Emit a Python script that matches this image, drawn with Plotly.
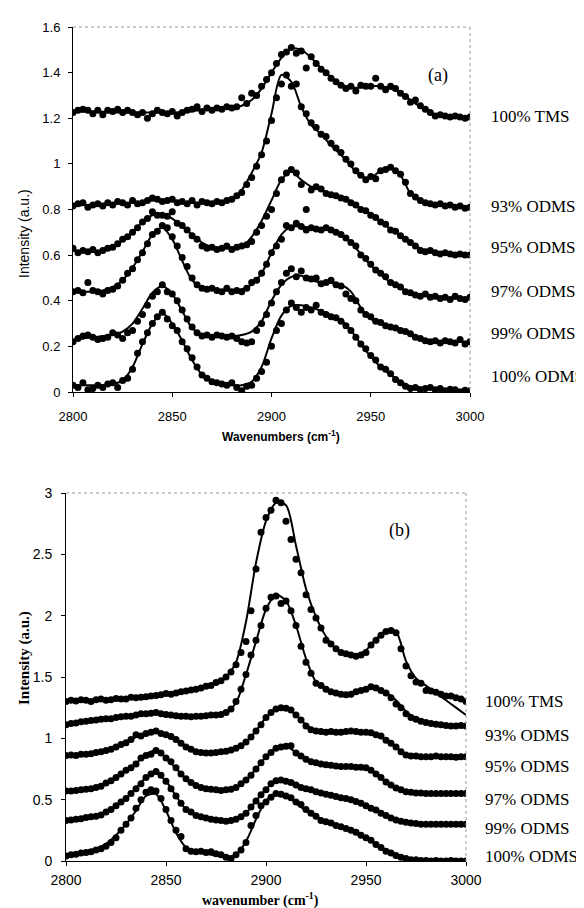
import plotly.graph_objects as go

# ---------------- data ----------------
wn_fit = list(range(2800, 3001, 5))                 # 41 fit points
wn_pts = [2800 + 2.5 * i for i in range(81)]         # 81 measured points

series_labels = ["100% TMS", "93% ODMS", "95% ODMS", "97% ODMS", "99% ODMS", "100% ODMS"]

# ---- panel (a) fitted curves ----
a_tms_fit = [1.23, 1.23, 1.23, 1.228, 1.225, 1.225, 1.225, 1.225, 1.225, 1.225, 1.225, 1.228, 1.232, 1.235,
             1.237, 1.24, 1.245, 1.255, 1.28, 1.33, 1.40, 1.465, 1.505, 1.50, 1.465, 1.42, 1.38, 1.35, 1.335,
             1.335, 1.34, 1.34, 1.33, 1.31, 1.28, 1.25, 1.225, 1.21, 1.205, 1.20, 1.20]
a_93_fit = [0.815, 0.82, 0.82, 0.825, 0.825, 0.828, 0.83, 0.835, 0.84, 0.842, 0.84, 0.835, 0.83, 0.83, 0.83,
            0.835, 0.845, 0.885, 0.96, 1.05, 1.22, 1.39, 1.36, 1.25, 1.17, 1.13, 1.08, 1.04, 0.99, 0.945,
            0.94, 0.97, 0.985, 0.95, 0.87, 0.835, 0.825, 0.82, 0.815, 0.81, 0.81]
a_95_fit = [0.62, 0.615, 0.615, 0.62, 0.635, 0.665, 0.70, 0.745, 0.775, 0.78, 0.76, 0.725, 0.69, 0.655, 0.635,
            0.63, 0.63, 0.635, 0.68, 0.75, 0.84, 0.93, 0.965, 0.93, 0.90, 0.885, 0.865, 0.85, 0.835, 0.805,
            0.78, 0.745, 0.715, 0.685, 0.655, 0.63, 0.615, 0.61, 0.605, 0.60, 0.60]
a_97_fit = [0.44, 0.44, 0.44, 0.445, 0.46, 0.49, 0.545, 0.615, 0.69, 0.72, 0.67, 0.575, 0.49, 0.455, 0.45,
            0.445, 0.445, 0.45, 0.47, 0.52, 0.61, 0.69, 0.725, 0.725, 0.72, 0.715, 0.71, 0.69, 0.655, 0.605,
            0.555, 0.515, 0.48, 0.455, 0.435, 0.425, 0.42, 0.415, 0.41, 0.41, 0.41]
a_99_fit = [0.225, 0.235, 0.24, 0.245, 0.25, 0.265, 0.30, 0.365, 0.435, 0.465, 0.43, 0.355, 0.28, 0.25, 0.245,
            0.245, 0.245, 0.25, 0.265, 0.31, 0.40, 0.47, 0.505, 0.51, 0.49, 0.48, 0.478, 0.47, 0.44, 0.37,
            0.32, 0.30, 0.285, 0.27, 0.25, 0.235, 0.225, 0.222, 0.22, 0.22, 0.22]
a_100_fit = [0.03, 0.03, 0.03, 0.03, 0.035, 0.05, 0.11, 0.21, 0.30, 0.345, 0.30, 0.225, 0.14, 0.075, 0.045,
             0.035, 0.03, 0.03, 0.045, 0.11, 0.235, 0.335, 0.378, 0.38, 0.37, 0.355, 0.335, 0.315, 0.27, 0.21,
             0.155, 0.11, 0.075, 0.045, 0.025, 0.02, 0.015, 0.012, 0.01, 0.01, 0.01]

# ---- panel (a) measured points ----
a_tms_pts = [1.225, 1.235, 1.24, 1.235, 1.22, 1.235, 1.215, 1.235, 1.23, 1.24, 1.225, 1.235, 1.225, 1.215,
             1.225, 1.20, 1.22, 1.235, 1.225, 1.22, 1.23, 1.21, 1.225, 1.235, 1.24, 1.25, 1.23, 1.245, 1.235,
             1.245, 1.24, 1.25, 1.245, 1.25, 1.29, 1.265, 1.31, 1.30, 1.34, 1.37, 1.40, 1.44, 1.48, 1.49,
             1.51, 1.485, 1.495, 1.42, 1.47, 1.44, 1.415, 1.40, 1.375, 1.36, 1.345, 1.33, 1.34, 1.32, 1.345,
             1.34, 1.34, 1.375, 1.34, 1.325, 1.34, 1.33, 1.31, 1.295, 1.27, 1.28, 1.255, 1.24, 1.225, 1.21,
             1.215, 1.21, 1.205, 1.21, 1.205, 1.20, 1.205]
a_93_pts = [0.815, 0.825, 0.83, 0.81, 0.82, 0.825, 0.815, 0.83, 0.82, 0.835, 0.83, 0.82, 0.84, 0.825, 0.83,
            0.84, 0.85, 0.845, 0.835, 0.84, 0.845, 0.83, 0.835, 0.825, 0.84, 0.82, 0.835, 0.83, 0.825, 0.835,
            0.83, 0.84, 0.845, 0.86, 0.875, 0.91, 0.94, 0.99, 1.04, 1.10, 1.19, 1.29, 1.35, 1.39, 1.34, 1.35,
            1.25, 1.22, 1.18, 1.16, 1.13, 1.12, 1.09, 1.07, 1.05, 1.02, 1.00, 0.97, 0.95, 0.93, 0.945, 0.935,
            0.97, 0.975, 0.985, 0.97, 0.955, 0.92, 0.87, 0.855, 0.84, 0.83, 0.825, 0.82, 0.825, 0.815, 0.82,
            0.81, 0.815, 0.805, 0.81]
a_95_pts = [0.63, 0.61, 0.62, 0.615, 0.625, 0.61, 0.62, 0.63, 0.635, 0.65, 0.67, 0.68, 0.70, 0.72, 0.745,
            0.76, 0.79, 0.775, 0.775, 0.77, 0.79, 0.74, 0.73, 0.71, 0.685, 0.67, 0.64, 0.63, 0.635, 0.625,
            0.63, 0.64, 0.625, 0.635, 0.64, 0.645, 0.66, 0.70, 0.73, 0.77, 0.80, 0.87, 0.93, 0.96, 0.975, 0.96,
            0.91, 0.80, 0.885, 0.90, 0.89, 0.87, 0.865, 0.86, 0.85, 0.845, 0.83, 0.82, 0.80, 0.795, 0.775,
            0.765, 0.745, 0.735, 0.71, 0.705, 0.685, 0.67, 0.655, 0.64, 0.62, 0.615, 0.62, 0.61, 0.605, 0.61,
            0.605, 0.60, 0.605, 0.60, 0.60]
a_97_pts = [0.44, 0.445, 0.435, 0.48, 0.445, 0.44, 0.43, 0.445, 0.45, 0.465, 0.49, 0.52, 0.54, 0.58, 0.61,
            0.65, 0.69, 0.705, 0.73, 0.72, 0.68, 0.64, 0.59, 0.55, 0.50, 0.47, 0.455, 0.45, 0.455, 0.445, 0.44,
            0.455, 0.44, 0.445, 0.44, 0.455, 0.48, 0.49, 0.52, 0.56, 0.61, 0.64, 0.67, 0.73, 0.72, 0.74, 0.725,
            0.71, 0.72, 0.715, 0.71, 0.72, 0.71, 0.70, 0.69, 0.675, 0.655, 0.64, 0.60, 0.585, 0.56, 0.535,
            0.52, 0.505, 0.48, 0.47, 0.46, 0.44, 0.435, 0.425, 0.42, 0.43, 0.415, 0.42, 0.41, 0.415, 0.405,
            0.42, 0.41, 0.405, 0.415]
a_99_pts = [0.22, 0.235, 0.245, 0.25, 0.24, 0.23, 0.235, 0.24, 0.26, 0.25, 0.235, 0.26, 0.27, 0.31, 0.34,
            0.38, 0.42, 0.44, 0.47, 0.44, 0.43, 0.40, 0.36, 0.32, 0.285, 0.26, 0.245, 0.25, 0.24, 0.25, 0.245,
            0.24, 0.245, 0.235, 0.22, 0.215, 0.22, 0.27, 0.30, 0.34, 0.39, 0.44, 0.48, 0.52, 0.54, 0.505, 0.53,
            0.50, 0.495, 0.50, 0.475, 0.48, 0.49, 0.47, 0.465, 0.43, 0.41, 0.40, 0.36, 0.34, 0.33, 0.31,
            0.305, 0.29, 0.285, 0.28, 0.27, 0.265, 0.255, 0.24, 0.235, 0.225, 0.22, 0.225, 0.215, 0.225, 0.22,
            0.215, 0.23, 0.21, 0.22]
a_100_pts = [0.03, 0.02, 0.04, 0.01, 0.015, 0.03, 0.02, 0.035, 0.04, 0.02, 0.05, 0.06, 0.10, 0.17, 0.22,
             0.26, 0.30, 0.33, 0.35, 0.32, 0.29, 0.27, 0.22, 0.19, 0.15, 0.11, 0.075, 0.06, 0.045, 0.04, 0.035,
             0.03, 0.04, 0.02, 0.005, 0.025, 0.03, 0.06, 0.09, 0.13, 0.20, 0.27, 0.30, 0.36, 0.39, 0.37, 0.35,
             0.37, 0.36, 0.38, 0.35, 0.34, 0.33, 0.325, 0.31, 0.29, 0.27, 0.24, 0.21, 0.19, 0.16, 0.14, 0.11,
             0.10, 0.08, 0.055, 0.04, 0.025, 0.015, 0.02, 0.01, 0.015, 0.02, 0.01, 0.015, 0.005, 0.012, 0.01,
             0.0, 0.008, 0.005]

# ---- panel (b) fitted curves ----
b_tms_fit = [1.31, 1.31, 1.31, 1.315, 1.315, 1.32, 1.325, 1.33, 1.34, 1.35, 1.36, 1.37, 1.385, 1.40, 1.42,
             1.45, 1.50, 1.62, 1.95, 2.43, 2.77, 2.92, 2.90, 2.57, 2.22, 1.99, 1.83, 1.73, 1.69, 1.68, 1.72,
             1.81, 1.88, 1.87, 1.63, 1.49, 1.43, 1.37, 1.31, 1.25, 1.19]
b_93_fit = [1.12, 1.13, 1.14, 1.15, 1.16, 1.17, 1.18, 1.19, 1.20, 1.205, 1.20, 1.19, 1.18, 1.18, 1.185, 1.19,
            1.21, 1.29, 1.52, 1.79, 2.05, 2.17, 2.12, 1.92, 1.65, 1.46, 1.40, 1.365, 1.355, 1.375, 1.405,
            1.41, 1.375, 1.31, 1.22, 1.16, 1.13, 1.115, 1.105, 1.10, 1.10]
b_95_fit = [0.86, 0.86, 0.87, 0.885, 0.90, 0.93, 0.97, 1.01, 1.04, 1.055, 1.035, 0.99, 0.93, 0.89, 0.88,
            0.885, 0.895, 0.92, 0.97, 1.06, 1.17, 1.24, 1.245, 1.19, 1.11, 1.06, 1.05, 1.05, 1.055, 1.055,
            1.05, 1.03, 0.985, 0.93, 0.87, 0.855, 0.85, 0.85, 0.85, 0.85, 0.85]
b_97_fit = [0.57, 0.575, 0.585, 0.60, 0.635, 0.68, 0.735, 0.795, 0.87, 0.90, 0.84, 0.755, 0.67, 0.615, 0.59,
            0.58, 0.58, 0.60, 0.66, 0.75, 0.85, 0.92, 0.935, 0.885, 0.83, 0.80, 0.785, 0.775, 0.77, 0.765,
            0.755, 0.71, 0.645, 0.595, 0.565, 0.555, 0.55, 0.55, 0.55, 0.55, 0.55]
b_99_fit = [0.33, 0.34, 0.355, 0.37, 0.40, 0.45, 0.515, 0.595, 0.68, 0.715, 0.65, 0.53, 0.42, 0.37, 0.35,
            0.335, 0.33, 0.335, 0.39, 0.49, 0.585, 0.655, 0.65, 0.62, 0.59, 0.565, 0.545, 0.525, 0.51, 0.485,
            0.45, 0.415, 0.37, 0.335, 0.315, 0.305, 0.30, 0.30, 0.30, 0.30, 0.30]
b_100_fit = [0.05, 0.06, 0.08, 0.10, 0.14, 0.21, 0.30, 0.41, 0.53, 0.545, 0.41, 0.23, 0.11, 0.07, 0.06, 0.045,
             0.03, 0.05, 0.16, 0.34, 0.49, 0.545, 0.535, 0.47, 0.41, 0.365, 0.32, 0.29, 0.265, 0.23, 0.19,
             0.135, 0.08, 0.045, 0.02, 0.01, 0.005, 0.0, 0.0, 0.0, 0.0]

# ---- panel (b) measured points ----
b_tms_pts = [1.30, 1.31, 1.305, 1.315, 1.31, 1.30, 1.315, 1.32, 1.31, 1.315, 1.325, 1.32, 1.32, 1.335, 1.33,
             1.335, 1.34, 1.345, 1.35, 1.355, 1.365, 1.36, 1.37, 1.38, 1.385, 1.395, 1.40, 1.41, 1.425, 1.43,
             1.455, 1.47, 1.50, 1.54, 1.60, 1.70, 1.79, 2.04, 2.38, 2.68, 2.80, 2.86, 2.94, 2.92, 2.77, 2.62,
             2.46, 2.35, 2.17, 2.05, 1.98, 1.90, 1.80, 1.77, 1.73, 1.70, 1.69, 1.68, 1.67, 1.68, 1.70, 1.76,
             1.80, 1.84, 1.87, 1.88, 1.86, 1.73, 1.59, 1.51, 1.46, 1.45, 1.39, 1.385, 1.375, 1.36, 1.345,
             1.345, 1.33, 1.32, 1.30]
b_93_pts = [1.11, 1.12, 1.125, 1.135, 1.14, 1.145, 1.15, 1.155, 1.16, 1.16, 1.17, 1.175, 1.18, 1.18, 1.19,
            1.20, 1.20, 1.205, 1.21, 1.20, 1.195, 1.19, 1.185, 1.18, 1.18, 1.175, 1.18, 1.18, 1.185, 1.19,
            1.19, 1.195, 1.21, 1.24, 1.30, 1.40, 1.52, 1.68, 1.80, 1.92, 2.06, 2.15, 2.16, 2.10, 2.12, 2.04,
            1.92, 1.75, 1.62, 1.53, 1.45, 1.43, 1.40, 1.38, 1.37, 1.36, 1.355, 1.36, 1.38, 1.39, 1.40, 1.42,
            1.41, 1.39, 1.37, 1.33, 1.28, 1.25, 1.20, 1.17, 1.155, 1.14, 1.13, 1.12, 1.115, 1.11, 1.105, 1.10,
            1.10, 1.105, 1.10]
b_95_pts = [0.86, 0.865, 0.86, 0.87, 0.87, 0.875, 0.885, 0.89, 0.90, 0.91, 0.93, 0.95, 0.965, 0.99, 1.03,
            1.02, 1.04, 1.05, 1.06, 1.04, 1.03, 1.015, 0.99, 0.96, 0.93, 0.91, 0.89, 0.885, 0.88, 0.88, 0.885,
            0.89, 0.895, 0.905, 0.92, 0.94, 0.97, 1.01, 1.06, 1.11, 1.17, 1.21, 1.24, 1.25, 1.245, 1.23, 1.19,
            1.15, 1.10, 1.07, 1.06, 1.055, 1.05, 1.055, 1.05, 1.05, 1.055, 1.06, 1.055, 1.05, 1.05, 1.045,
            1.03, 1.02, 0.985, 0.96, 0.93, 0.89, 0.865, 0.855, 0.855, 0.85, 0.85, 0.85, 0.855, 0.85, 0.85,
            0.85, 0.845, 0.85, 0.85]
b_97_pts = [0.57, 0.57, 0.575, 0.58, 0.585, 0.59, 0.60, 0.61, 0.635, 0.655, 0.68, 0.71, 0.74, 0.76, 0.79,
            0.84, 0.86, 0.87, 0.90, 0.88, 0.84, 0.81, 0.76, 0.71, 0.67, 0.64, 0.615, 0.60, 0.59, 0.585, 0.58,
            0.575, 0.58, 0.585, 0.60, 0.63, 0.66, 0.70, 0.75, 0.80, 0.85, 0.885, 0.92, 0.93, 0.935, 0.94,
            0.88, 0.855, 0.83, 0.81, 0.80, 0.79, 0.785, 0.78, 0.775, 0.77, 0.77, 0.77, 0.765, 0.765, 0.76,
            0.74, 0.71, 0.68, 0.645, 0.62, 0.595, 0.58, 0.565, 0.56, 0.555, 0.555, 0.55, 0.55, 0.55, 0.55,
            0.55, 0.55, 0.55, 0.55, 0.55]
b_99_pts = [0.33, 0.335, 0.34, 0.345, 0.355, 0.36, 0.365, 0.375, 0.40, 0.42, 0.45, 0.48, 0.51, 0.55, 0.59,
            0.63, 0.68, 0.71, 0.73, 0.70, 0.65, 0.59, 0.53, 0.47, 0.42, 0.40, 0.37, 0.36, 0.35, 0.34, 0.335,
            0.33, 0.325, 0.33, 0.34, 0.36, 0.39, 0.44, 0.49, 0.54, 0.58, 0.63, 0.655, 0.66, 0.65, 0.64, 0.62,
            0.60, 0.59, 0.58, 0.565, 0.555, 0.545, 0.535, 0.525, 0.515, 0.51, 0.50, 0.485, 0.47, 0.45, 0.43,
            0.415, 0.39, 0.37, 0.35, 0.335, 0.325, 0.315, 0.31, 0.305, 0.30, 0.30, 0.30, 0.30, 0.30, 0.30,
            0.30, 0.30, 0.30, 0.30]
b_100_pts = [0.04, 0.05, 0.055, 0.065, 0.07, 0.075, 0.09, 0.10, 0.12, 0.15, 0.19, 0.25, 0.30, 0.35, 0.43,
             0.50, 0.56, 0.58, 0.57, 0.51, 0.42, 0.33, 0.25, 0.20, 0.10, 0.08, 0.075, 0.08, 0.07, 0.075, 0.06,
             0.05, 0.03, 0.02, 0.05, 0.09, 0.15, 0.29, 0.37, 0.45, 0.48, 0.52, 0.55, 0.545, 0.53, 0.515, 0.48,
             0.46, 0.42, 0.39, 0.365, 0.33, 0.32, 0.31, 0.29, 0.28, 0.265, 0.25, 0.235, 0.21, 0.19, 0.17,
             0.135, 0.11, 0.08, 0.065, 0.045, 0.03, 0.02, 0.01, 0.01, 0.005, 0.005, 0.0, 0.005, 0.0, 0.0,
             0.005, 0.0, 0.0, 0.0]

a_fits = [a_tms_fit, a_93_fit, a_95_fit, a_97_fit, a_99_fit, a_100_fit]
a_pts = [a_tms_pts, a_93_pts, a_95_pts, a_97_pts, a_99_pts, a_100_pts]
b_fits = [b_tms_fit, b_93_fit, b_95_fit, b_97_fit, b_99_fit, b_100_fit]
b_pts = [b_tms_pts, b_93_pts, b_95_pts, b_97_pts, b_99_pts, b_100_pts]

# ---------------- layout helpers ----------------
W, H = 584, 908
def px(x): return x / W
def py(y): return 1 - y / H

A_L, A_R, A_T, A_B = 65, 462, 19, 384
B_L, B_R, B_T, B_B = 58, 458, 485, 853

fig = go.Figure()

for fit, pts in zip(a_fits, a_pts):
    fig.add_trace(go.Scatter(x=wn_pts, y=pts, mode="markers", xaxis="x", yaxis="y",
                             marker=dict(color="black", size=7), showlegend=False, hoverinfo="skip"))
    fig.add_trace(go.Scatter(x=wn_fit, y=fit, mode="lines", xaxis="x", yaxis="y",
                             line=dict(color="black", width=2, shape="spline", smoothing=0.8),
                             showlegend=False, hoverinfo="skip"))
for fit, pts in zip(b_fits, b_pts):
    fig.add_trace(go.Scatter(x=wn_pts, y=pts, mode="markers", xaxis="x2", yaxis="y2",
                             marker=dict(color="black", size=7), showlegend=False, hoverinfo="skip"))
    fig.add_trace(go.Scatter(x=wn_fit, y=fit, mode="lines", xaxis="x2", yaxis="y2",
                             line=dict(color="black", width=2, shape="spline", smoothing=0.8),
                             showlegend=False, hoverinfo="skip"))

sans = "Liberation Sans, Arial, sans-serif"
serif = "Liberation Serif, Times New Roman, serif"

def axis_common(fontsize):
    return dict(showgrid=False, zeroline=False, showline=True, linecolor="black", linewidth=1,
                ticks="outside", ticklen=4, tickcolor="black", mirror=False, automargin=False,
                tickfont=dict(family=sans, size=fontsize, color="black"))

fig.update_layout(
    template="none",
    width=W, height=H, margin=dict(l=0, r=0, t=0, b=0, pad=0), autosize=False,
    paper_bgcolor="white", plot_bgcolor="white", hovermode=False,
    xaxis=dict(domain=[px(A_L), px(A_R)], range=[2800, 3000], dtick=50, anchor="y",
               ticklabelstandoff=8, **axis_common(13)),
    yaxis=dict(domain=[py(A_B), py(A_T)], range=[0, 1.6], dtick=0.2, anchor="x",
               ticklabelstandoff=5, **axis_common(13)),
    xaxis2=dict(domain=[px(B_L), px(B_R)], range=[2800, 3000], dtick=50, anchor="y2",
                ticklabelstandoff=2, **axis_common(14)),
    yaxis2=dict(domain=[py(B_B), py(B_T)], range=[0, 3], dtick=0.5, anchor="x2",
                ticklabelstandoff=6, **axis_common(14)),
)

# dotted top/right frame
shapes = []
for (L, R, T, B) in [(A_L, A_R, A_T, A_B), (B_L, B_R, B_T, B_B)]:
    shapes.append(dict(type="line", xref="paper", yref="paper", x0=px(L), x1=px(R), y0=py(T), y1=py(T),
                       line=dict(color="#9a9a9a", width=1, dash="dot")))
    shapes.append(dict(type="line", xref="paper", yref="paper", x0=px(R), x1=px(R), y0=py(T), y1=py(B),
                       line=dict(color="#9a9a9a", width=1, dash="dot")))
fig.update_layout(shapes=shapes)

ann = []
a_label_y = [108, 198, 239, 283, 325, 368]
b_label_y = [693, 727, 758, 791, 820, 848]
for lab, yy in zip(series_labels, a_label_y):
    ann.append(dict(text=lab, x=px(482), y=py(yy), xref="paper", yref="paper", xanchor="left",
                    yanchor="middle", showarrow=False, borderpad=0,
                    font=dict(family=serif, size=17, color="black")))
for lab, yy in zip(series_labels, b_label_y):
    ann.append(dict(text=lab, x=px(476), y=py(yy), xref="paper", yref="paper", xanchor="left",
                    yanchor="middle", showarrow=False, borderpad=0,
                    font=dict(family=serif, size=17, color="black")))
ann.append(dict(text="(a)", x=px(442), y=py(55), xref="paper", yref="paper", showarrow=False,
                font=dict(family=serif, size=18, color="black")))
ann.append(dict(text="(b)", x=px(404), y=py(522), xref="paper", yref="paper", showarrow=False,
                font=dict(family=serif, size=18, color="black")))
# axis titles
ann.append(dict(text="Intensity (a.u.)", x=px(16), y=py(226), xref="paper", yref="paper", showarrow=False,
                xanchor="center", yanchor="middle",
                textangle=-90, font=dict(family=sans, size=14, color="black")))
ann.append(dict(text="<b>Wavenumbers (cm<sup>-1</sup>)</b>", x=px(273), y=py(428), xref="paper", yref="paper",
                xanchor="center", yanchor="middle",
                showarrow=False, font=dict(family=sans, size=12, color="black")))
ann.append(dict(text="<b>Intensity (a.u.)</b>", x=px(16), y=py(650), xref="paper", yref="paper",
                xanchor="center", yanchor="middle",
                showarrow=False, textangle=-90, font=dict(family=serif, size=15, color="black")))
ann.append(dict(text="<b>wavenumber (cm<sup>-1</sup>)</b>", x=px(252), y=py(891), xref="paper", yref="paper",
                xanchor="center", yanchor="middle", borderpad=0,
                showarrow=False, font=dict(family=serif, size=14, color="black")))
fig.update_layout(annotations=ann)

fig.write_html("out.html")
